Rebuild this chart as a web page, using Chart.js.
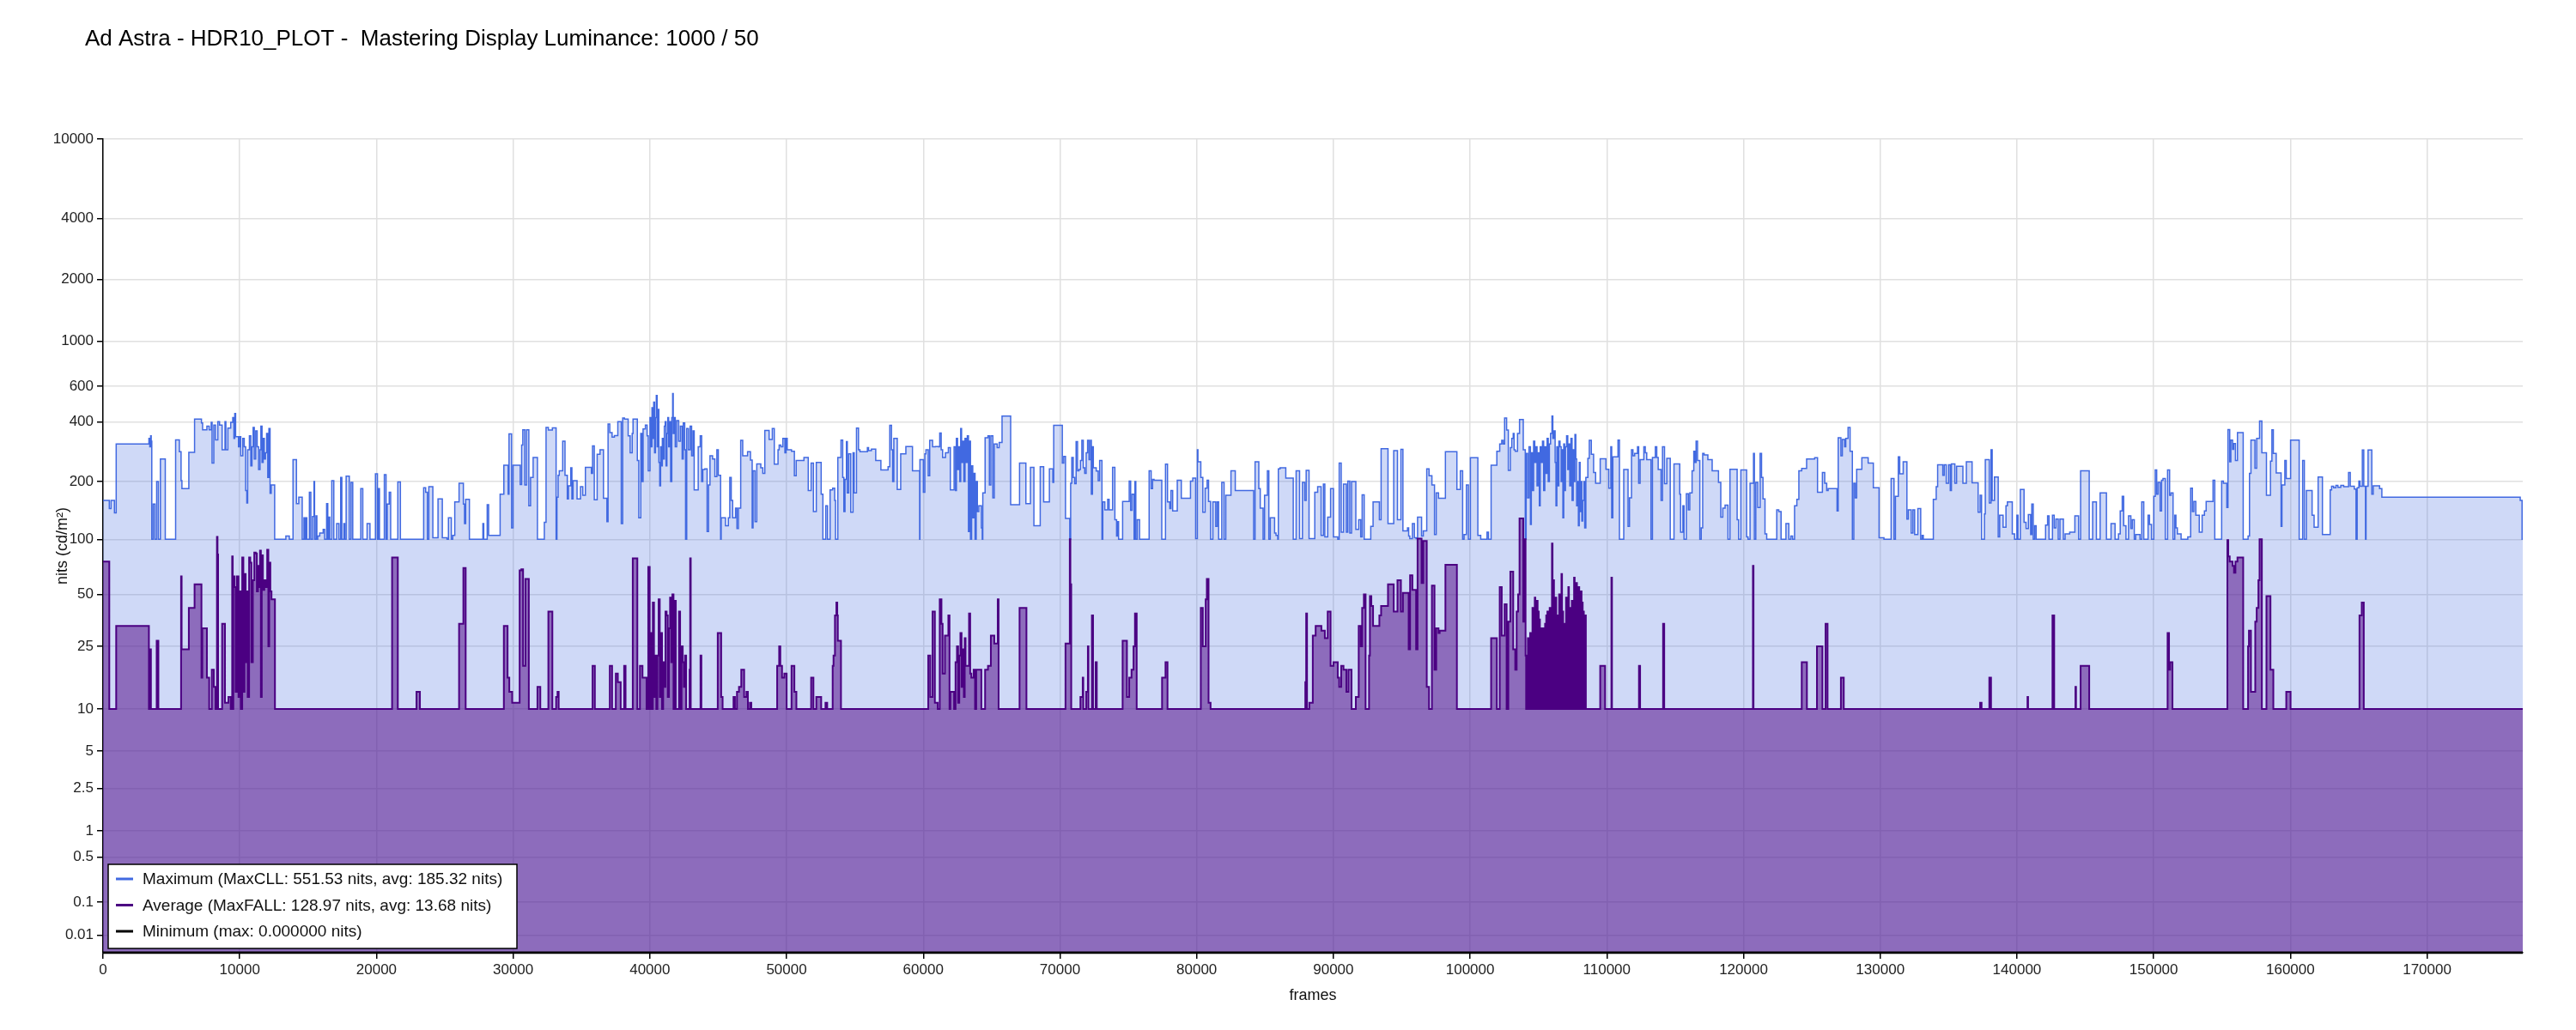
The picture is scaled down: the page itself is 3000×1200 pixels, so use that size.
<!DOCTYPE html>
<html>
<head>
<meta charset="utf-8">
<title>Ad Astra - HDR10_PLOT</title>
<script src="https://cdn.jsdelivr.net/npm/chart.js@4.4.1/dist/chart.umd.min.js"></script>
<style>
    html, body { margin: 0; padding: 0; background: #ffffff; }
    #wrap { width: 3000px; height: 1200px; }
</style>
</head>
<body>
<div id="wrap"><canvas id="hdrChart" width="3000" height="1200"></canvas></div>
<script>
// Texts
var chartTitle = 'Ad Astra - HDR10_PLOT -  Mastering Display Luminance: 1000 / 50';
var seriesLabels = [
    'Maximum (MaxCLL: 551.53 nits, avg: 185.32 nits)',
    'Average (MaxFALL: 128.97 nits, avg: 13.68 nits)',
    'Minimum (max: 0.000000 nits)'
];

// Axes
var yTickNits = [0.01, 0.1, 0.5, 1, 2.5, 5, 10, 25, 50, 100, 200, 400, 600, 1000, 2000, 4000, 10000];
var xTickFrames = [0, 10000, 20000, 30000, 40000, 50000, 60000, 70000, 80000, 90000, 100000, 110000, 120000, 130000, 140000, 150000, 160000, 170000];
var frameCount = 177000;

// Maximum per frame: [start frame, nits] (value holds until the next step)
var maxSteps = [
    [0,160],[458,145],[584,160],[836,138],[962,310],[3356,330],[3419,300],[3482,340],[3524,320],[3566,100],[3671,153],[3797,100],[3923,200],[4049,100],[4196,260],[4553,100],[5309,325],[5582,283],[5708,202],[5771,184],[6275,281],[6695,412],[7199,395],[7283,365],[7598,380],[7766,365],[7913,397],[7976,248],[8102,385],[8228,325],[8396,400],[8522,385],[8711,290],[8921,400],[8984,290],[9131,372],[9341,397],[9488,420],[9572,330],[9635,440],[9698,337],[9908,300],[9992,337],[10076,270],[10223,330],[10328,300],[10433,180],[10517,155],[10580,290],[10706,340],[10811,240],[10895,300],[10979,375],[11063,260],[11168,360],[11273,300],[11378,230],[11483,290],[11546,380],[11630,250],[11714,330],[11798,260],[11882,280],[11966,350],[12050,210],[12134,370],[12218,174],[12302,192],[12554,100],[13373,104],[13625,100],[13898,258],[14150,154],[14318,166],[14570,100],[14696,130],[14780,100],[14843,130],[14906,100],[15095,176],[15200,100],[15326,132],[15431,200],[15473,100],[15578,133],[15641,100],[15704,104],[15851,108],[16103,113],[16208,100],[16355,154],[16439,100],[16502,131],[16586,100],[16733,202],[16880,100],[17090,121],[17258,100],[17384,210],[17468,100],[17615,121],[17678,100],[17783,213],[18014,100],[18140,198],[18266,100],[18854,184],[19001,100],[19316,121],[19526,100],[19925,219],[20072,100],[20156,184],[20219,100],[20576,217],[20702,100],[20786,153],[20933,176],[21038,100],[21563,199],[21752,100],[23453,186],[23600,176],[23726,100],[23831,188],[24125,102],[24503,163],[24818,102],
    [25161,100],[25266,130],[25476,100],[25581,105],[25728,157],[26043,196],[26358,153],[26442,121],[26526,162],[26799,100],[27786,121],[27849,100],[28101,152],[28206,105],[29046,172],[29319,242],[29634,172],[29697,348],[29886,115],[29991,242],[30516,193],[30621,306],[30705,365],[30852,192],[30978,365],[31146,150],[31272,210],[31461,265],[31776,100],[32280,123],[32406,375],[32574,364],[32868,373],[33141,100],[33204,166],[33288,215],[33372,227],[33624,320],[33792,215],[33960,163],[34044,190],[34212,235],[34296,163],[34380,202],[34674,163],[34926,188],[35094,170],[35283,236],[35724,220],[35808,303],[35934,161],[36144,275],[36354,290],[36606,164],[36858,124],[36942,390],[37068,353],[37236,335],[37404,341],[37656,400],[37908,121],[38013,418],[38139,412],[38412,340],[38559,280],[38706,350],[38769,412],[39084,256],[39189,130],[39336,350],[39420,200],[39504,368],[39672,385],[39798,340],[39882,227],[40008,420],[40092,300],[40155,470],[40218,330],[40281,500],[40344,280],[40407,420],[40470,540],[40533,300],[40596,460],[40659,250],[40722,190],[40785,300],[40848,240],[40911,330],[40974,260],[41058,380],[41121,400],[41184,240],[41247,350],[41310,420],[41373,300],[41436,400],[41520,200],[41604,420],[41667,551.53],[41709,350],[41772,420],[41856,300],[41961,405],[42108,320],[42234,380],[42360,260],[42444,395],[42549,290],[42612,100],[42696,370],[42822,290],[42948,380],[43053,270],[43158,360],[43242,181],[43536,300],[43683,340],[43788,200],[43872,230],[44019,232],[44187,110],[44292,192],[44397,270],[44586,260],[44754,212],[44901,290],[45006,215],[45174,100],[45216,130],[45531,118],[45741,130],[45846,210],[45951,160],[46056,130],[46266,146],[46371,114],[46476,146],[46644,323],[46791,270],[47148,283],[47358,257],[47484,115],[47547,227],[47694,124],[47820,246],[48114,235],[48261,220],[48408,362],[48723,326],[48954,370],[49101,245],[49374,290],[49458,306],[49584,300],[49731,330],[49878,280],[49962,330],[50046,290],[50361,285],[50571,214],
    [50704,256],[51271,265],[51586,180],[51796,248],[51964,140],[52174,250],[52531,172],[52657,100],[52867,150],[52993,100],[53182,181],[53371,185],[53518,160],[53581,100],[53749,265],[53980,324],[54106,210],[54190,140],[54274,205],[54379,318],[54442,175],[54547,276],[54694,139],[54862,280],[54946,175],[55114,372],[55261,290],[55366,283],[55912,297],[55996,287],[56206,292],[56521,256],[56899,229],[57424,238],[57550,384],[57676,290],[57760,200],[57844,330],[58096,182],[58348,276],[58726,301],[59209,227],[59734,100],[59755,258],[60007,176],[60112,276],[60196,290],[60364,214],[60469,323],[60679,300],[60889,301],[61099,300],[61204,351],[61309,290],[61414,265],[61624,280],[61834,297],[61981,181],[62254,300],[62359,180],[62422,330],[62506,230],[62590,300],[62674,200],[62737,370],[62800,250],[62884,320],[62968,200],[63052,330],[63136,250],[63220,340],[63304,110],[63388,320],[63451,100],[63535,240],[63619,130],[63703,220],[63787,100],[63871,200],[63955,140],[64060,150],[64249,115],[64312,100],[64354,175],[64522,333],[64732,340],[64837,192],[64942,340],[65089,165],[65194,310],[65404,297],[65551,315],[65761,427],[66391,152],[67042,248],[67504,154],[67840,236],[68092,118],[68554,238],[68806,157],[69226,232],[69478,198],[69541,384],[70171,248],[70276,268],[70402,129],[70717,100],[70780,196],[70864,265],[70969,210],[71074,195],[71179,318],[71284,227],[71389,230],[71494,256],[71599,323],[71704,235],[71809,220],[71914,280],[72019,323],[72124,258],[72229,323],[72292,172],[72376,300],[72439,235],[72649,226],[72796,202],[72901,256],[73069,100],[73132,157],[73279,143],[73489,162],[73594,143],[73846,236],[74014,127],[74140,104],[74224,124],[74287,100],[74581,158],[75064,201],[75169,142],[75274,172],[75421,100],[75484,200],[75547,100],[75652,127],[75820,100],
    [76521,227],[76668,184],[76773,205],[76878,203],[77445,100],[77718,245],[77865,157],[78033,145],[78117,180],[78243,141],[78579,203],[78873,164],[79545,201],[79713,208],[79923,101],[80049,290],[80091,252],[80301,210],[80448,139],[80616,185],[80763,203],[80868,158],[81015,100],[81183,157],[81393,117],[81498,157],[81603,100],[81834,198],[82002,100],[82128,170],[82506,227],[82821,180],[84165,100],[84270,252],[84543,184],[84648,146],[84858,100],[84963,170],[85173,227],[85278,100],[85383,130],[85698,108],[85803,105],[85929,100],[85971,232],[86097,235],[86517,208],[87063,100],[87273,227],[87525,101],[87735,198],[87903,160],[88008,228],[88218,101],[88638,176],[88848,188],[89100,105],[89268,194],[89373,103],[89583,131],[89793,184],[90003,103],[90318,100],[90423,248],[90570,109],[90738,194],[90948,109],[91053,201],[91200,108],[91326,200],[91641,113],[91851,127],[91998,103],[92103,171],[92250,100],[92733,117],[92901,157],[93363,127],[93489,293],[93993,121],[94413,287],[94686,127],[94938,291],[95085,111],[95421,115],[95505,104],[95589,101],[95778,121],[95925,102],[96051,101],[96156,131],[96450,104],[96576,111],[96828,232],[96996,214],[97206,192],[97395,106],[97521,175],[97689,164],[98193,283],[99033,182],[99285,227],[99453,100],[99558,106],[99726,192],[99873,100],[100020,264],[100566,105],[100776,100],[101238,109],[101343,100],
    [101536,242],[101956,285],[102166,310],[102313,323],[102418,310],[102523,417],[102670,364],[102796,228],[102943,297],[103048,330],[103153,350],[103216,290],[103300,285],[103468,350],[103615,410],[103888,290],[104035,100],[104098,278],[104203,165],[104308,300],[104413,120],[104476,280],[104560,180],[104644,320],[104728,250],[104812,300],[104896,190],[104980,280],[105064,150],[105127,300],[105211,250],[105295,320],[105379,180],[105463,300],[105547,220],[105631,330],[105715,200],[105799,310],[105883,350],[105988,427],[106051,330],[106135,360],[106219,250],[106282,150],[106345,300],[106408,190],[106492,320],[106576,300],[106660,200],[106723,290],[106786,130],[106849,310],[106912,180],[106975,300],[107059,340],[107143,230],[107206,310],[107290,190],[107374,330],[107458,160],[107542,290],[107605,200],[107668,345],[107731,260],[107794,150],[107857,200],[107920,118],[107983,250],[108046,140],[108109,200],[108172,125],[108235,160],[108319,200],[108382,115],[108466,210],[108613,262],[108718,323],[108865,275],[109033,222],[109180,196],[109516,261],[109936,231],[110146,185],[110293,300],[110356,130],[110440,267],[110818,324],[110923,100],[111238,230],[111553,117],[111658,165],[111805,290],[111910,270],[112036,278],[112246,300],[112330,196],[112435,258],[112708,300],[112813,280],[112918,258],[113233,100],[113338,265],[113548,300],[113653,265],[113758,230],[113968,160],[114073,300],[114220,195],[114388,262],[114640,100],[114913,246],[115333,172],[115396,109],[115564,150],[115648,100],[115816,173],[115963,143],[116068,175],[116236,227],[116362,285],[116446,250],[116530,320],[116635,256],[116803,100],[116908,115],[117013,278],[117118,273],[117391,258],[117706,227],[118168,198],[118336,131],[118483,146],[118651,151],[118861,100],[119008,231],[119533,127],[119638,100],[119806,229],[120226,103],[120331,100],[120478,196],[120730,278],[120793,100],[120898,198],[121045,147],[121213,278],[121318,210],[121423,163],[121570,107],[121696,100],[122431,143],[122578,140],[122746,100],[123103,121],[123313,100],[123460,104],[123586,100],[123733,150],[123901,162],[124048,227],[124258,233],[124615,260],[125203,264],[125413,176],[125770,222],[125938,196],[126085,180],[126190,184],[126841,141],[126925,333],
    [127122,270],[127227,326],[127395,300],[127479,330],[127647,375],[127794,285],[127962,100],[128067,196],[128172,165],[128277,231],[128655,264],[129117,248],[129495,186],[129915,102],[130272,100],[130797,207],[131007,100],[131112,168],[131322,267],[131427,219],[131679,252],[131952,128],[132057,143],[132267,108],[132393,143],[132519,106],[132750,145],[132960,100],[133065,105],[133149,100],[133884,162],[134094,188],[134199,243],[134577,215],[134682,243],[134829,196],[134997,243],[135123,180],[135207,246],[135459,196],[135585,239],[136047,196],[136299,252],[136719,197],[137160,139],[137307,170],[137412,100],[137622,136],[137685,258],[137979,155],[138105,290],[138189,160],[138357,211],[138630,103],[138735,134],[138987,116],[139197,150],[139302,157],[139659,107],[139827,100],[139995,134],[140079,100],[140247,182],[140520,123],[140667,114],[140835,135],[141003,106],[141087,153],[141192,100],[141297,118],[141402,100],[142095,119],[142242,133],[142347,100],[142599,134],[142725,115],[142851,128],[143019,100],[143145,128],[143397,100],[143523,107],[143859,109],[144237,133],[144510,100],[144657,227],[145287,100],[145539,157],[145812,100],[146085,175],[146547,100],[146883,121],[147177,100],[147429,107],[147555,141],[147702,168],[147807,118],[147975,100],[148164,133],[148332,114],[148437,127],[148584,100],[148689,106],[149004,100],[149130,157],[149277,100],[149592,134],[149697,120],[149844,100],[150012,168],[150117,229],[150222,172],[150327,198],[150474,141],[150579,203],[150684,207],[150852,100],[151020,229],[151167,170],[151272,175],[151419,100],[151545,134],[151629,115],[151734,107],[152007,100],
    [152497,103],[152707,185],[152833,140],[152938,158],[153085,134],[153337,109],[153547,134],[153715,141],[153841,158],[154345,203],[154471,100],[154975,201],[155101,196],[155353,147],[155437,366],[155563,252],[155647,324],[155773,291],[155857,311],[155983,256],[156130,353],[156550,100],[156907,104],[157012,220],[157117,324],[157411,234],[157537,330],[157747,403],[157915,280],[158251,170],[158545,254],[158650,365],[158755,278],[158965,221],[159322,117],[159385,192],[159595,256],[159700,207],[160015,324],[160645,100],[160897,256],[161023,100],[161170,180],[161590,134],[161737,116],[162031,211],[162346,106],[162913,181],[163018,189],[163165,186],[163333,191],[163480,187],[163690,191],[163900,188],[164257,222],[164383,189],[164677,183],[164803,100],[164887,186],[165013,201],[165097,189],[165265,289],[165370,189],[165496,100],[165538,189],[165685,289],[165958,172],[166063,190],[166525,184],[166693,166],[176815,160],[176950,100],[177000,100]
];

// Frame average (FALL): [start frame, nits]
var avgSteps = [
    [0,76],[458,10],[962,33],[3356,10],[3461,24],[3503,10],[3923,27],[4049,10],[5708,63],[5750,24],[6275,42],[6695,57],[7199,16],[7262,32],[7598,16],[7766,10],[7955,18],[8102,14],[8228,10],[8333,103],[8375,83],[8417,10],[8711,34],[8921,11],[9173,12],[9341,10],[9446,81],[9488,10],[9530,63],[9614,55],[9698,13],[9782,63],[9908,12],[9992,52],[10076,10],[10181,80],[10265,13],[10349,65],[10433,20],[10517,52],[10580,12],[10685,80],[10769,75],[10853,20],[10958,60],[11063,85],[11168,84],[11252,52],[11336,72],[11420,55],[11483,87],[11546,12],[11609,82],[11693,53],[11798,60],[11903,55],[12008,88],[12092,25],[12155,75],[12239,52],[12323,47],[12575,10],[21143,80],[21563,10],[22928,13],[23180,10],
    [26043,34],[26358,70],[26526,10],[29319,33],[29592,16],[29718,13],[29928,11],[30474,68],[30600,69],[30726,19],[30894,61],[31146,10],[31776,14],[31986,10],[32574,40],[32868,10],[33141,12],[33246,13],[33330,10],[35808,19],[35976,10],[37068,19],[37236,10],[37509,17],[37656,15],[37866,10],[38118,19],[38223,10],[38748,79],[39084,10],[39273,19],[39462,16],[39756,10],[39882,71],[39987,10],[40050,30],[40134,10],[40218,45],[40302,12],[40386,22],[40470,10],[40554,22],[40638,47],[40722,12],[40806,30],[40890,10],[40974,20],[41058,14],[41142,40],[41226,38],[41310,12],[41394,32],[41478,48],[41562,20],[41646,50],[41730,10],[41814,46],[41898,10],[42129,40],[42213,10],[42318,25],[42402,20],[42486,14],[42570,22],[42654,10],[42906,18],[42948,79],[42990,10],[43704,22],[43767,10],[44964,30],[45216,12],[45321,10],[46119,12],[46224,10],[46371,13],[46518,14],[46686,18],[46896,12],[47064,13],[47169,10],[47316,11],[47421,10],[49311,19],[49458,25],[49542,19],[49668,16],[49836,17],[50004,10],[50361,19],[50571,13],[50718,10],
    [51796,16],[51964,10],[52174,12],[52531,10],[52846,11],[52972,10],[53371,19],[53434,22],[53539,38],[53644,45],[53707,38],[53749,27],[53980,10],[60364,22],[60511,12],[60679,40],[60847,11],[61057,10],[61204,47],[61330,34],[61414,17],[61582,29],[61834,38],[61918,10],[61981,13],[62254,10],[62359,20],[62464,25],[62548,11],[62632,22],[62716,30],[62800,14],[62884,24],[62968,12],[63031,28],[63094,19],[63346,39],[63430,17],[63514,16],[63682,18],[63787,10],[63871,18],[64249,10],[64522,18],[64732,19],[64942,29],[65194,26],[65446,47],[65509,10],[67042,42],[67546,10],[70402,26],[70717,100],[70759,57],[70822,10],[71494,12],[71662,16],[71704,10],[71914,13],[72040,25],[72082,10],[72334,38],[72418,10],[72607,20],[72691,10],[74581,27],[74896,12],[75064,16],[75232,18],[75379,25],[75484,39],[75610,10],
    [77466,16],[77718,20],[77865,10],[80301,42],[80448,25],[80658,47],[80742,61],[80868,11],[81015,10],[87945,15],[88008,39],[88071,10],[88239,11],[88491,29],[88701,33],[89121,31],[89373,28],[89583,40],[89793,19],[90003,20],[90318,16],[90423,14],[90570,19],[90738,18],[90948,13],[91095,18],[91326,10],[91641,12],[91851,33],[91998,25],[92103,42],[92229,50],[92355,10],[92607,22],[92670,49],[92775,43],[92901,33],[93363,38],[93489,43],[93993,57],[94413,40],[94686,60],[94938,40],[95085,51],[95505,24],[95610,64],[95778,53],[96051,24],[96156,101],[96450,58],[96576,98],[96828,14],[96996,10],[97206,56],[97395,18],[97521,32],[97689,30],[97773,31],[98193,73],[99033,10],
    [101536,28],[101956,10],[102166,55],[102313,29],[102523,44],[102670,10],[102796,35],[102943,67],[103153,24],[103300,18],[103405,40],[103510,50],[103615,128.97],[103888,35],[103993,100],
    [104056,22],[104098,10],[104140,14],[104182,10],[104224,28],[104266,10],[104308,17],[104350,10],[104392,30],[104434,10],[104476,22],[104518,10],[104560,42],[104602,10],[104644,36],[104686,10],[104728,48],[104770,10],[104812,36],[104854,10],[104896,46],[104938,10],[104980,40],[105022,10],[105064,36],[105106,10],[105148,32],[105190,10],[105232,28],[105274,10],[105316,32],[105358,10],[105400,30],[105442,10],[105484,34],[105526,10],[105568,38],[105610,10],[105652,40],[105694,10],[105736,35],[105778,10],[105820,42],[105862,10],[105904,38],[105946,10],[105988,95],[106030,55],[106062,10],[106093,60],[106135,10],[106177,45],[106219,10],[106261,48],[106303,10],[106345,38],[106387,10],[106429,36],[106471,10],[106513,50],[106555,10],[106597,42],[106639,10],[106681,65],[106723,10],[106765,40],[106807,10],[106849,30],[106891,10],[106933,34],[106975,10],[107017,48],[107059,10],[107101,38],[107143,10],[107185,55],[107227,10],[107269,42],[107311,10],[107353,35],[107395,10],[107437,46],[107479,10],[107521,40],[107563,10],[107605,62],[107647,10],[107689,44],[107731,10],[107773,58],[107815,10],[107857,40],[107899,10],[107941,55],[107983,10],[108025,42],[108067,10],[108109,52],[108151,10],[108193,45],[108235,10],[108277,40],[108319,10],[108361,38],[108466,10],
    [109516,19],[109873,10],[110335,62],[110377,10],[112351,19],[112435,10],[114115,34],[114199,10],[120688,72],[120730,10],[124258,20],[124636,10],[125371,25],[125770,10],[126001,34],[126148,10],
    [127122,16],[127332,10],[137307,11],[137412,10],[137979,16],[138105,10],[140772,12],[140814,10],[142599,38],[142725,10],[144279,14],[144321,10],[144657,19],[145287,10],[151020,30],[151125,18],[151209,20],[151377,10],
    [155395,99],[155458,81],[155563,76],[155773,72],[155878,66],[155983,76],[156130,80],[156550,10],[156907,25],[156970,31],[157117,13],[157432,35],[157537,42],[157663,60],[157747,100],[157915,10],[158251,49],[158545,18],[158755,10],[159700,13],[160015,10],[165055,38],[165223,45],[165370,10],[177000,10]
];

// Frame minimum: zero over the whole film
var minSteps = [[0, 0], [177000, 0]];

// SMPTE ST 2084 (PQ) curve, used for the vertical axis
var PQ_M1 = 0.1593017578125, PQ_M2 = 78.84375, PQ_C1 = 0.8359375, PQ_C2 = 18.8515625, PQ_C3 = 18.6875;

function pq(nits) {
    var y = Math.pow(Math.max(nits, 0) / 10000, PQ_M1);
    return Math.pow((PQ_C1 + PQ_C2 * y) / (1 + PQ_C3 * y), PQ_M2);
}

function pqInverse(v) {
    var p = Math.pow(Math.max(v, 0), 1 / PQ_M2);
    var num = Math.max(p - PQ_C1, 0);
    return 10000 * Math.pow(num / (PQ_C2 - PQ_C3 * p), 1 / PQ_M1);
}

// A linear scale whose pixels follow the PQ code value
class PqScale extends Chart.LinearScale {
    determineDataLimits() {
        this.min = 0;
        this.max = 10000;
    }
    buildTicks() {
        return yTickNits.map(function (v) { return { value: v }; });
    }
    getPixelForValue(value) {
        return this.getPixelForDecimal(pq(value));
    }
    getValueForPixel(pixel) {
        return pqInverse(this.getDecimalForPixel(pixel));
    }
}
PqScale.id = 'pq';
PqScale.defaults = {};
Chart.register(PqScale);

Chart.defaults.font.family = '"Liberation Sans", Arial, sans-serif';

function toPoints(steps) {
    return steps.map(function (s) { return { x: s[0], y: s[1] }; });
}

// Title drawn at the top left
var titlePlugin = {
    id: 'plotTitle',
    afterDraw: function (chart) {
        var ctx = chart.ctx;
        ctx.save();
        ctx.font = '26px "Liberation Sans", Arial, sans-serif';
        ctx.fillStyle = '#000000';
        ctx.textAlign = 'left';
        ctx.textBaseline = 'middle';
        ctx.fillText(chartTitle, 99, 46);
        ctx.restore();
    }
};

// Boxed legend in the lower left corner of the plot
var legendBoxPlugin = {
    id: 'legendBox',
    afterDraw: function (chart) {
        var ctx = chart.ctx;
        var area = chart.chartArea;
        var x = area.left + 6, y = area.bottom - 103, w = 476, h = 98;
        ctx.save();
        ctx.fillStyle = '#ffffff';
        ctx.fillRect(x, y, w, h);
        ctx.strokeStyle = '#000000';
        ctx.lineWidth = 1.5;
        ctx.strokeRect(x, y, w, h);
        ctx.font = '19px "Liberation Sans", Arial, sans-serif';
        ctx.textBaseline = 'middle';
        chart.data.datasets.forEach(function (ds, i) {
            var rowY = y + 17 + i * 30.5;
            ctx.strokeStyle = ds.borderColor;
            ctx.lineWidth = 3;
            ctx.beginPath();
            ctx.moveTo(x + 9, rowY);
            ctx.lineTo(x + 29, rowY);
            ctx.stroke();
            ctx.fillStyle = '#111111';
            ctx.fillText(ds.label, x + 40, rowY + 1);
        });
        ctx.restore();
    }
};

var tickFont = { size: 17 };
var tickColor = '#222222';
var gridColor = '#e0e0e0';

var ctx = document.getElementById('hdrChart').getContext('2d');

var hdrChart = new Chart(ctx, {
    type: 'line',
    data: {
        datasets: [{
            label: seriesLabels[0],
            data: toPoints(maxSteps),
            borderColor: '#4169e1',
            backgroundColor: 'rgba(65, 105, 225, 0.25)',
            borderWidth: 1.5,
            fill: 'origin',
            stepped: true,
            pointRadius: 0,
            order: 3
        },
        {
            label: seriesLabels[1],
            data: toPoints(avgSteps),
            borderColor: '#4b0082',
            backgroundColor: 'rgba(75, 0, 130, 0.5)',
            borderWidth: 2,
            fill: 'origin',
            stepped: true,
            pointRadius: 0,
            order: 2
        },
        {
            label: seriesLabels[2],
            data: toPoints(minSteps),
            borderColor: '#000000',
            backgroundColor: 'rgba(0, 0, 0, 0)',
            borderWidth: 3,
            fill: false,
            stepped: true,
            pointRadius: 0,
            order: 1
        }]
    },
    options: {
        responsive: false,
        animation: false,
        devicePixelRatio: 1,
        events: [],
        layout: {
            padding: { top: 162, right: 62, left: 0, bottom: 0 }
        },
        scales: {
            x: {
                type: 'linear',
                min: 0,
                max: frameCount,
                afterBuildTicks: function (scale) {
                    scale.ticks = xTickFrames.map(function (v) { return { value: v }; });
                },
                ticks: {
                    maxRotation: 0,
                    autoSkip: false,
                    padding: 3,
                    font: tickFont,
                    color: tickColor,
                    callback: function (value) { return String(value); }
                },
                grid: { color: gridColor, lineWidth: 1.5, tickColor: '#000000', tickLength: 7 },
                border: { color: '#000000', width: 1.5 },
                title: {
                    display: true,
                    text: 'frames',
                    color: '#111111',
                    font: { size: 18 },
                    padding: { top: 0, bottom: 29 }
                },
                afterFit: function (scale) { scale.height = 90; }
            },
            y: {
                type: 'pq',
                position: 'left',
                ticks: {
                    autoSkip: false,
                    padding: 4,
                    font: tickFont,
                    color: tickColor,
                    callback: function (value) { return String(value); }
                },
                grid: { color: gridColor, lineWidth: 1.5, tickColor: '#000000', tickLength: 7 },
                border: { color: '#000000', width: 1.5 },
                title: {
                    display: true,
                    text: 'nits (cd/m²)',
                    color: '#111111',
                    font: { size: 18 },
                    padding: { top: 62, bottom: 0 }
                },
                afterFit: function (scale) { scale.width = 120; }
            }
        },
        plugins: {
            legend: { display: false },
            tooltip: { enabled: false },
            title: { display: false }
        }
    },
    plugins: [titlePlugin, legendBoxPlugin]
});
</script>
</body>
</html>
